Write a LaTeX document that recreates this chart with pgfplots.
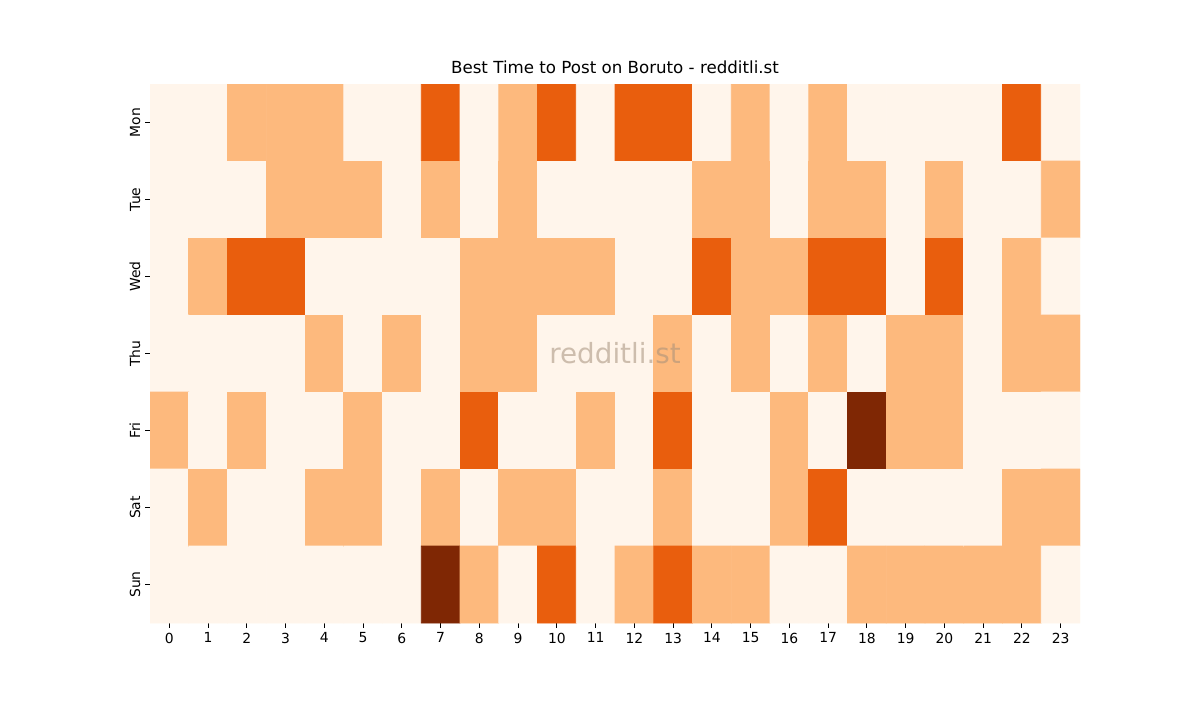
\documentclass[border=0pt]{standalone}
\usepackage{pgfplots}
\pgfplotsset{compat=1.18}
\usepackage{fontspec}
\setmainfont{DejaVu Sans}
\begin{document}
\begin{tikzpicture}
\path[use as bounding box] (0,0) rectangle (864pt,504pt);
\begin{axis}[
  at={(108pt,55.44pt)}, anchor=south west,
  scale only axis, width=669.6pt, height=388.08pt,
  xmin=-0.5, xmax=23.5, ymin=-0.5, ymax=6.5, y dir=reverse,
  xtick={0,...,23}, ytick={0,...,6},
  yticklabels={Mon,Tue,Wed,Thu,Fri,Sat,Sun},
  yticklabel style={rotate=90, anchor=south},
  xtick pos=bottom, ytick pos=left,
  tick align=outside, major tick length=3.5pt,
  tick style={black, line width=0.6pt},
  axis line style={draw=none},
  /pgf/number format/assume math mode=true,
  tick label style={font=\fontsize{10}{12}\selectfont},
  title={Best Time to Post on Boruto - redditli.st},
  title style={font=\fontsize{12}{14}\selectfont, yshift=-2pt},
  colormap={oranges}{rgb255=(255,245,235) rgb255=(253,185,125) rgb255=(233,94,13) rgb255=(127,39,4)},
  point meta min=0, point meta max=3,
  enlargelimits=false,
]
\addplot[matrix plot*, mesh/cols=24, point meta=explicit] coordinates {
(0,0)[0] (1,0)[0] (2,0)[1] (3,0)[1] (4,0)[1] (5,0)[0] (6,0)[0] (7,0)[2] (8,0)[0] (9,0)[1] (10,0)[2] (11,0)[0] (12,0)[2] (13,0)[2] (14,0)[0] (15,0)[1] (16,0)[0] (17,0)[1] (18,0)[0] (19,0)[0] (20,0)[0] (21,0)[0] (22,0)[2] (23,0)[0]

(0,1)[0] (1,1)[0] (2,1)[0] (3,1)[1] (4,1)[1] (5,1)[1] (6,1)[0] (7,1)[1] (8,1)[0] (9,1)[1] (10,1)[0] (11,1)[0] (12,1)[0] (13,1)[0] (14,1)[1] (15,1)[1] (16,1)[0] (17,1)[1] (18,1)[1] (19,1)[0] (20,1)[1] (21,1)[0] (22,1)[0] (23,1)[1]

(0,2)[0] (1,2)[1] (2,2)[2] (3,2)[2] (4,2)[0] (5,2)[0] (6,2)[0] (7,2)[0] (8,2)[1] (9,2)[1] (10,2)[1] (11,2)[1] (12,2)[0] (13,2)[0] (14,2)[2] (15,2)[1] (16,2)[1] (17,2)[2] (18,2)[2] (19,2)[0] (20,2)[2] (21,2)[0] (22,2)[1] (23,2)[0]

(0,3)[0] (1,3)[0] (2,3)[0] (3,3)[0] (4,3)[1] (5,3)[0] (6,3)[1] (7,3)[0] (8,3)[1] (9,3)[1] (10,3)[0] (11,3)[0] (12,3)[0] (13,3)[1] (14,3)[0] (15,3)[1] (16,3)[0] (17,3)[1] (18,3)[0] (19,3)[1] (20,3)[1] (21,3)[0] (22,3)[1] (23,3)[1]

(0,4)[1] (1,4)[0] (2,4)[1] (3,4)[0] (4,4)[0] (5,4)[1] (6,4)[0] (7,4)[0] (8,4)[2] (9,4)[0] (10,4)[0] (11,4)[1] (12,4)[0] (13,4)[2] (14,4)[0] (15,4)[0] (16,4)[1] (17,4)[0] (18,4)[3] (19,4)[1] (20,4)[1] (21,4)[0] (22,4)[0] (23,4)[0]

(0,5)[0] (1,5)[1] (2,5)[0] (3,5)[0] (4,5)[1] (5,5)[1] (6,5)[0] (7,5)[1] (8,5)[0] (9,5)[1] (10,5)[1] (11,5)[0] (12,5)[0] (13,5)[1] (14,5)[0] (15,5)[0] (16,5)[1] (17,5)[2] (18,5)[0] (19,5)[0] (20,5)[0] (21,5)[0] (22,5)[1] (23,5)[1]

(0,6)[0] (1,6)[0] (2,6)[0] (3,6)[0] (4,6)[0] (5,6)[0] (6,6)[0] (7,6)[3] (8,6)[1] (9,6)[0] (10,6)[2] (11,6)[0] (12,6)[1] (13,6)[2] (14,6)[1] (15,6)[1] (16,6)[0] (17,6)[0] (18,6)[1] (19,6)[1] (20,6)[1] (21,6)[1] (22,6)[1] (23,6)[0]
};
\node[text=black!45!brown!60, opacity=0.55, font=\fontsize{20}{24}\selectfont] at (axis cs:11.5,3) {redditli.st};
\end{axis}
\end{tikzpicture}
\end{document}
